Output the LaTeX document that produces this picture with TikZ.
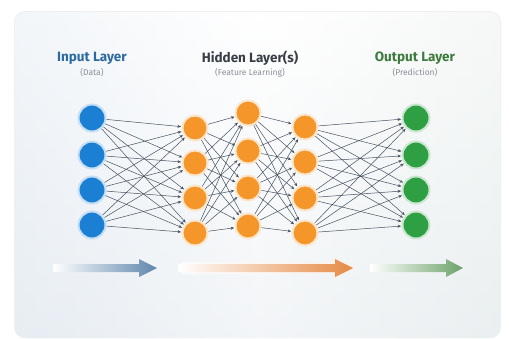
\documentclass[tikz,border=0pt]{standalone}
\usepackage{fontspec}
\setmainfont{Fira Sans}
\usetikzlibrary{arrows.meta}
\pgfdeclarelayer{back}
\pgfdeclarelayer{edges}
\pgfsetlayers{back,edges,main}

\definecolor{cardL}{HTML}{E6EDF4}
\definecolor{cardR}{HTML}{EDF2EF}
\definecolor{cardB}{HTML}{E8EDF2}
\definecolor{inBlue}{HTML}{1B80D3}
\definecolor{hidOrange}{HTML}{F5962A}
\definecolor{outGreen}{HTML}{2EA043}
\definecolor{tInput}{HTML}{2C6AA0}
\definecolor{tHidden}{HTML}{3A3F47}
\definecolor{tOutput}{HTML}{3D7A3D}
\definecolor{tSub}{HTML}{8A9098}
\definecolor{edgeC}{HTML}{46515E}
\definecolor{arBlue}{HTML}{5F86AC}
\definecolor{arOrange}{HTML}{E58A45}
\definecolor{arGreen}{HTML}{6DA26A}

\tikzset{
  neuron/.style={circle, inner sep=0pt, minimum size=#1},
  inneuron/.style={neuron=27pt, fill=inBlue, draw=inBlue!25, line width=2pt},
  hidneuron/.style={neuron=25pt, fill=hidOrange, draw=hidOrange!25, line width=2pt},
  outneuron/.style={neuron=27pt, fill=outGreen, draw=outGreen!25, line width=2pt},
  edge/.style={draw=edgeC, line width=0.5pt, -{Stealth[length=3.5pt,width=3pt]}, shorten >=0.5pt},
  title/.style={font=\fontsize{13.5}{15}\selectfont\bfseries},
  subtitle/.style={font=\fontsize{8.5}{10}\selectfont, text=tSub},
}

\begin{document}
\begin{tikzpicture}[x=1pt,y=-1pt]
\useasboundingbox (0,0) rectangle (509,338);

\begin{pgfonlayer}{back}
  % page and card
  \fill[white] (0,0) rectangle (509,338);
  \fill[black!6, rounded corners=11pt] (14,11) rectangle (501,338);
  \shade[rounded corners=10pt, left color=cardL, right color=cardR, middle color=white]
    (15,12) rectangle (500,338);
  \shade[rounded corners=10pt, top color=white, bottom color=cardB, opacity=0.5]
    (15,12) rectangle (500,338);
\end{pgfonlayer}

% layer titles
\node[title, text=tInput]  (tin)  at (92,58)  {Input Layer};
\node[subtitle]            (sin)  at (92,73)  {(Data)};
\node[title, text=tHidden] (thid) at (250,58) {Hidden Layer(s)};
\node[subtitle]            (shid) at (250,73) {(Feature Learning)};
\node[title, text=tOutput] (tout) at (415,58) {Output Layer};
\node[subtitle]            (sout) at (415,73) {(Prediction)};

% neurons
\foreach \k/\y in {1/118,2/155,3/190,4/225}
  \node[inneuron] (i\k) at (92,\y) {};
\foreach \k/\y in {1/128,2/163,3/198,4/233}
  \node[hidneuron] (a\k) at (195,\y) {};
\foreach \k/\y in {1/113,2/151,3/188,4/226}
  \node[hidneuron] (b\k) at (248,\y) {};
\foreach \k/\y in {1/127,2/162,3/198,4/233}
  \node[hidneuron] (c\k) at (305,\y) {};
\foreach \k/\y in {1/118,2/155,3/190,4/225}
  \node[outneuron] (o\k) at (416,\y) {};

% fully connected weights between consecutive layers
\begin{pgfonlayer}{edges}
\foreach \s in {1,...,4}
  \foreach \t in {1,...,4} {
    \draw[edge] (i\s) -- (a\t);
    \draw[edge] (a\s) -- (b\t);
    \draw[edge] (b\s) -- (c\t);
    \draw[edge] (c\s) -- (o\t);
  }
\end{pgfonlayer}

% flow arrows under the layers
\shade[left color=white, middle color=arBlue!75!white, right color=arBlue]
  (53,264) -- (139,264) -- (139,259) -- (157,268) -- (139,277) -- (139,272) -- (53,272) -- cycle;
\shade[left color=white, right color=arOrange!14, opacity=0.7, rounded corners=4pt]
  (180,262) -- (333,262) -- (333,256) -- (356,268) -- (333,280) -- (333,274) -- (180,274) -- cycle;
\shade[left color=white, middle color=arOrange!75!white, right color=arOrange]
  (178,264) -- (335,264) -- (335,259) -- (353,268) -- (335,277) -- (335,272) -- (178,272) -- cycle;
\shade[left color=white, middle color=arGreen!75!white, right color=arGreen]
  (370,264) -- (446,264) -- (446,259) -- (463,268) -- (446,277) -- (446,272) -- (370,272) -- cycle;
\end{tikzpicture}
\end{document}
